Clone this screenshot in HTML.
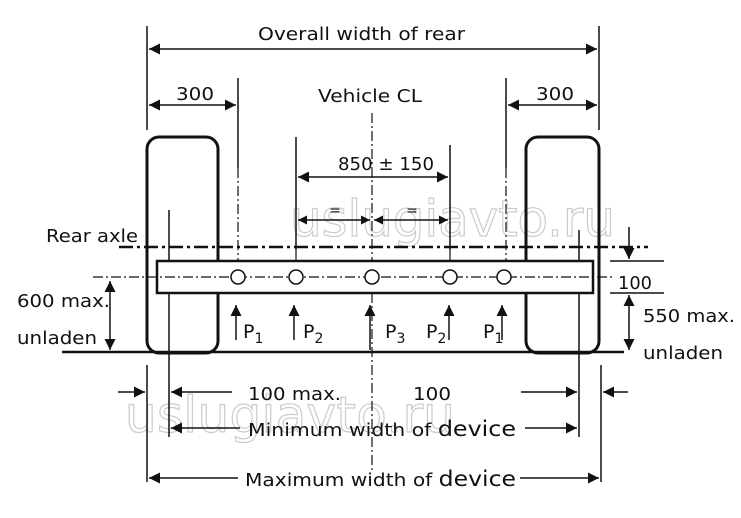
<!DOCTYPE html>
<html><head><style>
html,body{margin:0;padding:0;background:#fff;}
svg{display:block;}
text{font-family:"DejaVu Sans","Liberation Sans",sans-serif;font-size:18px;fill:#111;}
</style></head><body>
<svg width="741" height="518" viewBox="0 0 741 518" xmlns="http://www.w3.org/2000/svg">
<defs>
<marker id="a" viewBox="0 0 10 10" refX="10" refY="5" markerWidth="9" markerHeight="9" markerUnits="userSpaceOnUse" orient="auto-start-reverse"><path d="M0,0 L10,5 L0,10 z" fill="#111"/></marker>
<marker id="b" viewBox="0 0 10 10" refX="10" refY="5" markerWidth="13" markerHeight="11" markerUnits="userSpaceOnUse" orient="auto-start-reverse"><path d="M0,0 L10,5 L0,10 z" fill="#111"/></marker>
</defs>
<g stroke="#111" fill="none" stroke-width="1.5">
<text x="290" y="236" style="font-size:50px;fill:#fff;stroke:#ccc;stroke-width:1.2" textLength="325">uslugiavto.ru</text>
<text x="125" y="432" style="font-size:50px;fill:#fff;stroke:#ccc;stroke-width:1.2" textLength="330">uslugiavto.ru</text>

<line x1="147" y1="26" x2="147" y2="130"/>
<line x1="599" y1="26" x2="599" y2="130"/>
<line x1="149" y1="49" x2="597" y2="49" marker-start="url(#b)" marker-end="url(#b)"/>
<line x1="238" y1="78" x2="238" y2="168"/>
<line x1="506" y1="78" x2="506" y2="168"/>
<line x1="149" y1="105" x2="236" y2="105" marker-start="url(#b)" marker-end="url(#b)"/>
<line x1="508" y1="105" x2="597" y2="105" marker-start="url(#b)" marker-end="url(#b)"/>
<rect x="147" y="137" width="71" height="216" rx="12" stroke-width="3"/>
<rect x="526" y="137" width="73" height="216" rx="12" stroke-width="3"/>
<line x1="372" y1="113" x2="372" y2="470" stroke-dasharray="10,3,2,3" stroke-width="1.2"/>
<line x1="296" y1="137" x2="296" y2="250"/>
<line x1="450" y1="145" x2="450" y2="250"/>
<line x1="298" y1="177" x2="448" y2="177" marker-start="url(#b)" marker-end="url(#b)"/>
<line x1="298" y1="220" x2="370" y2="220" marker-start="url(#a)" marker-end="url(#a)"/>
<line x1="374" y1="220" x2="448" y2="220" marker-start="url(#a)" marker-end="url(#a)"/>
<line x1="119" y1="247" x2="648" y2="247" stroke-dasharray="14,4,3,4" stroke-width="2.5"/>
<line x1="238" y1="168" x2="238" y2="262" stroke-dasharray="10,3,2,3" stroke-width="1.2"/>
<line x1="506" y1="168" x2="506" y2="262" stroke-dasharray="10,3,2,3" stroke-width="1.2"/>
<line x1="296" y1="250" x2="296" y2="262" stroke-width="1.2"/>
<line x1="450" y1="250" x2="450" y2="262" stroke-width="1.2"/>
<line x1="169" y1="210" x2="169" y2="437"/>
<line x1="579" y1="230" x2="579" y2="437"/>
<rect x="157" y="261" width="436" height="32" stroke-width="2.5" fill="#fff"/>
<line x1="93" y1="277" x2="612" y2="277" stroke-dasharray="10,3,2,3" stroke-width="1.3"/>
<g fill="#fff" stroke-width="1.5">
<circle cx="238" cy="277" r="7"/><circle cx="296" cy="277" r="7"/><circle cx="372" cy="277" r="7"/><circle cx="450" cy="277" r="7"/><circle cx="504" cy="277" r="7"/>
</g>
<line x1="236" y1="340" x2="236" y2="305" marker-end="url(#b)"/>
<line x1="294" y1="340" x2="294" y2="305" marker-end="url(#b)"/>
<line x1="370" y1="350" x2="370" y2="305" marker-end="url(#b)"/>
<line x1="449" y1="340" x2="449" y2="305" marker-end="url(#b)"/>
<line x1="502" y1="340" x2="502" y2="305" marker-end="url(#b)"/>
<line x1="62" y1="352" x2="624" y2="352" stroke-width="2.5"/>
<line x1="110" y1="281" x2="110" y2="350" marker-start="url(#b)" marker-end="url(#b)"/>
<line x1="610" y1="261" x2="664" y2="261"/>
<line x1="610" y1="293" x2="664" y2="293"/>
<line x1="629" y1="227" x2="629" y2="259" marker-end="url(#b)"/>
<line x1="629" y1="295" x2="629" y2="350" marker-start="url(#b)" marker-end="url(#b)"/>
<line x1="147" y1="365" x2="147" y2="482"/>
<line x1="601" y1="365" x2="601" y2="482"/>
<line x1="118" y1="392" x2="145" y2="392" marker-end="url(#b)"/>
<line x1="232" y1="392" x2="171" y2="392" marker-end="url(#b)"/>
<line x1="521" y1="392" x2="577" y2="392" marker-end="url(#b)"/>
<line x1="628" y1="392" x2="603" y2="392" marker-end="url(#b)"/>
<line x1="240" y1="428" x2="171" y2="428" marker-end="url(#b)"/>
<line x1="525" y1="428" x2="577" y2="428" marker-end="url(#b)"/>
<line x1="238" y1="478" x2="149" y2="478" marker-end="url(#b)"/>
<line x1="520" y1="478" x2="599" y2="478" marker-end="url(#b)"/>
</g>
<text x="258" y="40" textLength="207" lengthAdjust="spacingAndGlyphs">Overall width of rear</text>
<text x="176" y="100" textLength="38" lengthAdjust="spacingAndGlyphs">300</text>
<text x="536" y="100" textLength="38" lengthAdjust="spacingAndGlyphs">300</text>
<text x="318" y="102" textLength="104" lengthAdjust="spacingAndGlyphs">Vehicle CL</text>
<text x="338" y="170" textLength="96" lengthAdjust="spacingAndGlyphs">850 ± 150</text>
<text x="335" y="215" text-anchor="middle" style="font-size:14px">=</text>
<text x="412" y="215" text-anchor="middle" style="font-size:14px">=</text>
<text x="46" y="242" textLength="92" lengthAdjust="spacingAndGlyphs">Rear axle</text>
<text x="17" y="307" textLength="93" lengthAdjust="spacingAndGlyphs">600 max.</text>
<text x="17" y="344" textLength="80" lengthAdjust="spacingAndGlyphs">unladen</text>
<text x="618" y="289" textLength="34" lengthAdjust="spacingAndGlyphs">100</text>
<text x="643" y="322" textLength="92" lengthAdjust="spacingAndGlyphs">550 max.</text>
<text x="643" y="359" textLength="80" lengthAdjust="spacingAndGlyphs">unladen</text>
<text x="243" y="338" style="font-size:19px">P<tspan dy="5" style="font-size:14px">1</tspan></text>
<text x="303" y="338" style="font-size:19px">P<tspan dy="5" style="font-size:14px">2</tspan></text>
<text x="385" y="338" style="font-size:19px">P<tspan dy="5" style="font-size:14px">3</tspan></text>
<text x="426" y="338" style="font-size:19px">P<tspan dy="5" style="font-size:14px">2</tspan></text>
<text x="483" y="338" style="font-size:19px">P<tspan dy="5" style="font-size:14px">1</tspan></text>
<text x="248" y="400" textLength="93" lengthAdjust="spacingAndGlyphs">100 max.</text>
<text x="413" y="400" textLength="38" lengthAdjust="spacingAndGlyphs">100</text>
<text x="248" y="436" textLength="268" lengthAdjust="spacingAndGlyphs">Minimum width of <tspan style="font-size:21px">device</tspan></text>
<text x="245" y="486" textLength="271" lengthAdjust="spacingAndGlyphs">Maximum width of <tspan style="font-size:21px">device</tspan></text>
</svg>
</body></html>
